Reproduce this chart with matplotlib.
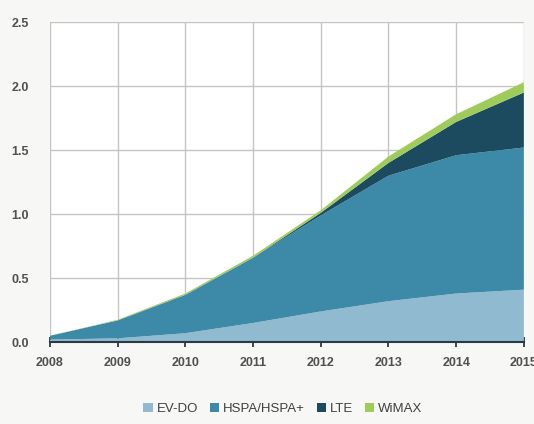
import matplotlib
matplotlib.use("Agg")
import matplotlib.pyplot as plt
from matplotlib.patches import Patch

plt.rcParams["font.family"] = ["Liberation Sans", "DejaVu Sans"]

years = [2008, 2009, 2010, 2011, 2012, 2013, 2014, 2015]
ev_do = [0.02, 0.03, 0.07, 0.15, 0.24, 0.32, 0.38, 0.41]
hspa = [0.03, 0.14, 0.30, 0.51, 0.75, 0.98, 1.08, 1.11]
lte = [0.0, 0.0, 0.0, 0.0, 0.02, 0.10, 0.26, 0.43]
wimax = [0.0, 0.005, 0.01, 0.015, 0.02, 0.05, 0.06, 0.08]
series_names = ["EV-DO", "HSPA/HSPA+", "LTE", "WiMAX"]
colors = ["#8fbad0", "#3d89a8", "#1c4a5f", "#9fcb5b"]
yticks = [0.0, 0.5, 1.0, 1.5, 2.0, 2.5]

fig = plt.figure(figsize=(5.34, 4.24), dpi=100)
fig.patch.set_facecolor("#f7f7f5")
ax = fig.add_axes([0.0936, 0.193, 0.8874, 0.755])
ax.set_facecolor("white")

ax.stackplot(years, ev_do, hspa, lte, wimax, colors=colors, linewidth=0)

ax.set_xlim(years[0], years[-1])
ax.set_ylim(0, 2.5)
ax.set_xticks(years)
ax.set_xticklabels([str(y) for y in years])
ax.set_yticks(yticks)
ax.set_yticklabels([f"{v:.1f}" for v in yticks])
ax.grid(True, color="#c4c4c4", linewidth=1.0)
ax.set_axisbelow(True)
for s in ["top", "right", "left"]:
    ax.spines[s].set_visible(False)
ax.spines["bottom"].set_color("#2a3a44")
ax.spines["bottom"].set_linewidth(1.5)
ax.tick_params(axis="x", direction="inout", length=7, width=1.3, color="#2a3a44",
               labelsize=9, labelcolor="#505050", pad=7)
ax.tick_params(axis="y", length=0, labelsize=9, labelcolor="#505050", pad=15)
for lab in ax.get_xticklabels() + ax.get_yticklabels():
    lab.set_fontweight("bold")

handles = [Patch(facecolor=c, edgecolor="none") for c in colors]
fig.legend(handles, series_names, loc="center", bbox_to_anchor=(0.53, 0.035),
           ncol=4, frameon=False, handlelength=0.7, handleheight=0.7,
           handletextpad=0.3, columnspacing=0.9,
           prop={"size": 9.5}, labelcolor="#404040")

fig.savefig("out.png", dpi=100, facecolor=fig.get_facecolor())
